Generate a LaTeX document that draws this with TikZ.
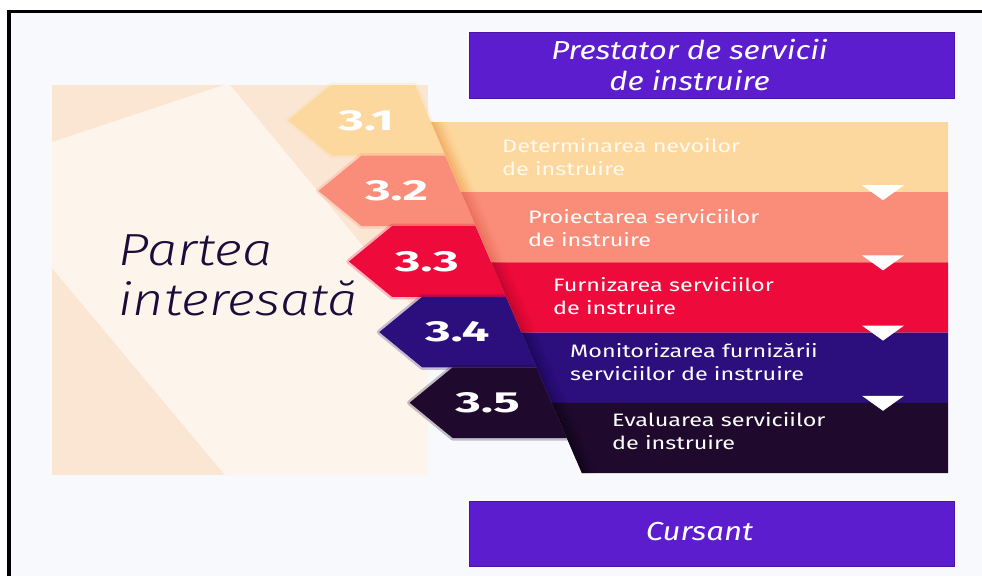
\documentclass[tikz,border=0pt]{standalone}
\usepackage{fontspec}
\setmainfont[FakeStretch=1.2]{Fira Sans}
\newfontfamily\bandfont[FakeStretch=1.3]{Fira Sans}
\newfontfamily\numfont[FakeStretch=1.7]{Fira Sans}
\newfontfamily\lightfont[FakeStretch=1.2, UprightFont={* Light}, ItalicFont={* Light Italic}]{Fira Sans}
\definecolor{bgc}{HTML}{F8F9FC}
\definecolor{panelA}{HTML}{FAE6D3}
\definecolor{panelB}{HTML}{FDF4EC}
\definecolor{c1}{HTML}{FDD89E}
\definecolor{c2}{HTML}{FA8D7A}
\definecolor{c3}{HTML}{EE0A3A}
\definecolor{c4}{HTML}{2C0E7C}
\definecolor{c5}{HTML}{1F0A2E}
\definecolor{s1}{HTML}{EE9444}
\definecolor{s2}{HTML}{E0604A}
\definecolor{s3}{HTML}{A8062A}
\definecolor{s4}{HTML}{16064A}
\definecolor{s5}{HTML}{08020E}
\definecolor{violetc}{HTML}{5B1DCE}
\definecolor{violetd}{HTML}{4A14A8}
\definecolor{darkt}{HTML}{1E0B3A}
\tikzset{
  bandtext/.style={anchor=west, align=left, text=white, font=\bandfont\fontsize{18}{23}\selectfont, inner sep=0pt},
  numtext/.style={text=white, font=\numfont\bfseries\fontsize{29}{29}\selectfont, inner sep=0pt},
  vbox/.style={fill=violetc, draw=violetd, line width=0.8pt, inner sep=0pt},
  vtext/.style={text=white, align=center, font=\itshape\fontsize{26}{31}\selectfont, inner sep=0pt},
  bigtext/.style={anchor=base west, text=darkt, font=\lightfont\itshape\fontsize{45}{50}\selectfont, inner sep=0pt},
  tri/.style={fill=white}
}
\begin{document}
\begin{tikzpicture}[x=1pt,y=-1pt]
\useasboundingbox (0,0) rectangle (982,576);
\fill[white] (0,0) rectangle (982,576);
\fill[bgc] (9,12) rectangle (982,576);
\draw[line width=3.5pt] (9,576) -- (9,11.5) -- (982,11.5);
% beige panel
\fill[panelA] (52,85) rectangle (428,475);
\fill[panelB] (52,142) -- (224,85) -- (230,85) -- (428,325) -- (428,475) -- (225,475) -- (52,268) -- cycle;
% tabs
\foreach \c/\lab [count=\i from 0] in {c1/3.1,c2/3.2,c3/3.3,c4/3.4,c5/3.5}{
  \pgfmathsetmacro\ya{85+70.6*\i}
  \pgfmathsetmacro\yb{\ya+70.6}
  \pgfmathsetmacro\ym{\ya+35.3}
  \pgfmathsetmacro\xa{415+0.43*(\ya-85)}
  \pgfmathsetmacro\xb{415+0.43*(\yb-85)}
  \pgfmathsetmacro\xm{415+0.43*(\ym-85)}
  \pgfmathsetmacro\tip{\xm-142}
  \pgfmathsetmacro\cor{\tip+43}
  \draw[\c, line width=5pt, opacity=0.25, line join=round] (\tip,\ym) -- (\cor,\ya) -- (\xa,\ya) -- (\xb,\yb) -- (\cor,\yb) -- cycle;
  \fill[\c] (\tip,\ym) -- (\cor,\ya) -- (\xa,\ya) -- (\xb,\yb) -- (\cor,\yb) -- cycle;
  \node[numtext] (n\i) at (\tip+78,\ym) {\lab};
}
% bands
\foreach \c/\s [count=\i from 0] in {c1/s1,c2/s2,c3/s3,c4/s4,c5/s5}{
  \pgfmathsetmacro\ya{122+70.2*\i}
  \pgfmathsetmacro\yb{\ya+70.2}
  \pgfmathsetmacro\xa{415+0.43*(\ya-85)}
  \pgfmathsetmacro\xb{415+0.43*(\yb-85)}
  \fill[\c] (\xa,\ya) -- (948,\ya) -- (948,\yb) -- (\xb,\yb) -- cycle;
  \foreach \k/\op in {0/0.55,3/0.4,6/0.27,9/0.15,12/0.06}{
    \fill[\s, opacity=\op] (\xa+\k,\ya) -- (\xa+\k+3,\ya) -- (\xb+\k+3,\yb) -- (\xb+\k,\yb) -- cycle;
  }
}
% triangles
\foreach \y in {192.2,262.4,332.6,402.8}{
  \fill[tri] (862,\y-7) -- (904,\y-7) -- (883,\y+8) -- cycle;
}
% band texts
\node[bandtext, text=white!85!c1] (t1) at (502,157.5) {Determinarea nevoilor\\de instruire};
\node[bandtext] (t2) at (528,228) {Proiectarea serviciilor\\de instruire};
\node[bandtext] (t3) at (553,296) {Furnizarea serviciilor\\de instruire};
\node[bandtext] (t4) at (570,361.5) {Monitorizarea furnizării\\serviciilor de instruire};
\node[bandtext] (t5) at (612,431.5) {Evaluarea serviciilor\\de instruire};
% violet boxes
\node[vbox, minimum width=485pt, minimum height=66pt] (prov) at (711.5,65) {};
\node[vtext] (provt) at ([xshift=-22pt]prov.center) {Prestator de servicii\\de instruire};
\node[vbox, minimum width=485pt, minimum height=65pt] (curs) at (711.5,533.5) {};
\node[vtext] (curst) at ([xshift=-12pt,yshift=2pt]curs.center) {Cursant};
% stakeholder
\node[bigtext] (pi1) at (118,265) {Partea};
\node[bigtext] (pi2) at (118,315) {interesată};
\end{tikzpicture}
\end{document}
